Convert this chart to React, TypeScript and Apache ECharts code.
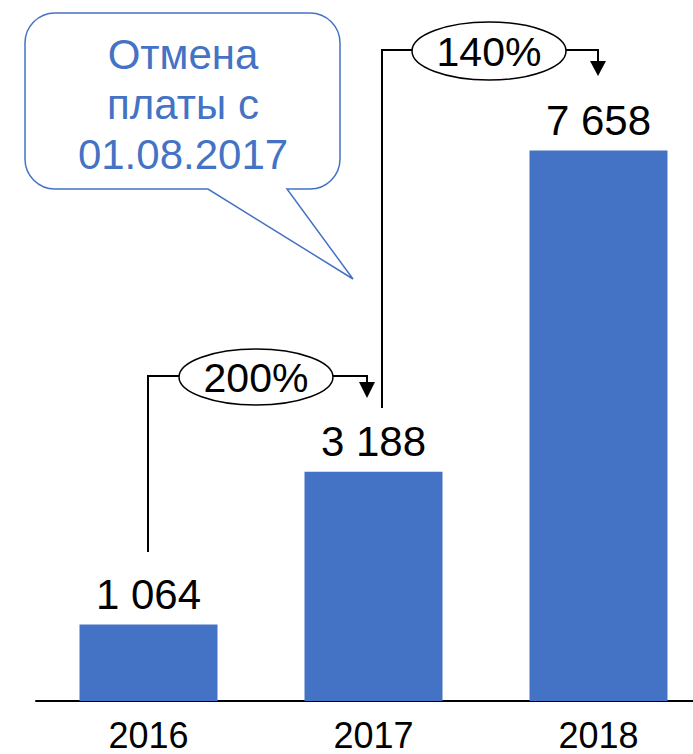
import React, { useEffect, useRef } from "react";
import * as echarts from "echarts";

const categories = ["2016", "2017", "2018"];
const values = [1064, 3188, 7658];
const growthLabels = ["200%", "140%"];
const calloutText = "Отмена\nплаты с\n01.08.2017";

const BLUE = "#4472C4";
const FONT = "'Liberation Sans', Arial, sans-serif";

function fmt(v: number): string {
  return String(v).replace(/\B(?=(\d{3})+(?!\d))/g, " ");
}

const calloutPath =
  "M 55 13 H 310 A 30 30 0 0 1 340 43 V 159 A 30 30 0 0 1 310 189 H 287 L 353 279 L 208 189 H 55 A 30 30 0 0 1 25 159 V 43 A 30 30 0 0 1 55 13 Z";

let registered = false;
function ensureShapes() {
  if (registered) return;
  echarts.graphic.registerShape("callout", echarts.graphic.extendPath(calloutPath, {}) as any);
  registered = true;
}

export default function App() {
  const ref = useRef<HTMLDivElement>(null);
  useEffect(() => {
    if (!ref.current) return;
    ensureShapes();
    const chart = echarts.init(ref.current, undefined, { renderer: "svg" });
    const lineStyle = { stroke: "#000", lineWidth: 2, fill: null as any };
    const option: any = {
      animation: false,
      backgroundColor: "#fff",
      grid: { left: 36, right: 9, top: 126, bottom: 53 },
      xAxis: {
        type: "category",
        data: categories,
        axisLine: { lineStyle: { color: "#000", width: 2 } },
        axisTick: { show: false },
        axisLabel: { fontSize: 36, color: "#000", fontFamily: FONT, margin: 16 },
      },
      yAxis: {
        type: "value",
        min: 0,
        max: 8000,
        show: false,
        splitLine: { show: false },
      },
      series: [
        {
          type: "bar",
          data: values,
          barWidth: 138,
          itemStyle: { color: BLUE },
          label: {
            show: true,
            position: "top",
            distance: 9,
            fontSize: 42,
            color: "#000",
            fontFamily: FONT,
            formatter: (p: any) => fmt(p.value),
          },
        },
      ],
      graphic: [
        {
          type: "callout",
          x: 0,
          y: 0,
          style: { fill: "#fff", stroke: BLUE, lineWidth: 1.5 },
        },
        {
          type: "text",
          x: 183,
          y: 104,
          style: {
            text: calloutText,
            fill: BLUE,
            fontSize: 42,
            fontFamily: FONT,
            lineHeight: 50,
            align: "center",
            verticalAlign: "middle",
          },
        },
        // connector 1
        { type: "polyline", shape: { points: [[148, 552], [148, 376], [179, 376]] }, style: lineStyle },
        { type: "polyline", shape: { points: [[333, 376], [367, 376], [367, 384]] }, style: lineStyle },
        { type: "polygon", shape: { points: [[359, 382], [375, 382], [367, 398]] }, style: { fill: "#000" } },
        { type: "ellipse", shape: { cx: 256, cy: 377, rx: 77, ry: 28 }, style: { fill: "#fff", stroke: "#000", lineWidth: 1.5 } },
        {
          type: "text",
          x: 256,
          y: 378,
          style: { text: growthLabels[0], fill: "#000", fontSize: 41, fontFamily: FONT, align: "center", verticalAlign: "middle" },
        },
        // connector 2
        { type: "polyline", shape: { points: [[382, 408], [382, 50], [412, 50]] }, style: lineStyle },
        { type: "polyline", shape: { points: [[566, 50], [598, 50], [598, 62]] }, style: lineStyle },
        { type: "polygon", shape: { points: [[590, 61], [606, 61], [598, 76]] }, style: { fill: "#000" } },
        { type: "ellipse", shape: { cx: 489, cy: 51, rx: 77, ry: 29 }, style: { fill: "#fff", stroke: "#000", lineWidth: 1.5 } },
        {
          type: "text",
          x: 489,
          y: 52,
          style: { text: growthLabels[1], fill: "#000", fontSize: 41, fontFamily: FONT, align: "center", verticalAlign: "middle" },
        },
      ],
    };
    chart.setOption(option);
    return () => chart.dispose();
  }, []);
  return (
    <div style={{ position: "absolute", left: 0, top: 0, width: 693, height: 754, overflow: "hidden", background: "#fff" }}>
      <div ref={ref} style={{ width: 720, height: 754 }} />
    </div>
  );
}
